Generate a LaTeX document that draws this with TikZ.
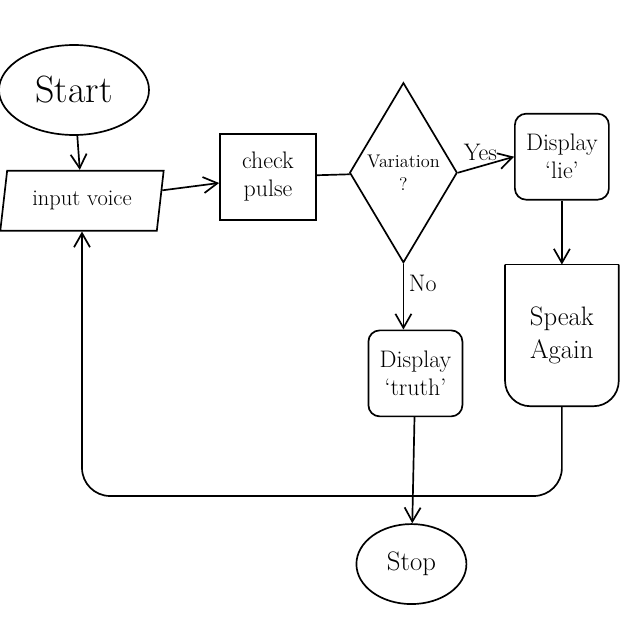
\documentclass[tikz,border=0pt]{standalone}
\usepackage{tikz}
\usetikzlibrary{shapes.geometric, arrows.meta, positioning}
\tikzset{
  terminal/.style={ellipse, draw, line width=1.2pt, inner sep=0pt},
  entrada/.style={trapezium, trapezium left angle=80, trapezium right angle=100,
    trapezium stretches=true, draw, line width=1.2pt, minimum width=4.1cm,
    minimum height=1.5cm, font=\fontsize{16}{19}\selectfont},
  proceso/.style={rectangle, draw, line width=1.2pt, align=center,
    minimum width=2.4cm, minimum height=2.15cm, font=\fontsize{17}{20}\selectfont},
  salida/.style={proceso, rounded corners=8pt, minimum width=2.35cm,
    font=\fontsize{17}{20}\selectfont},
  decision/.style={diamond, draw, line width=1.2pt, align=center, inner sep=0pt,
    minimum width=2.3cm, minimum height=4.5cm, font=\fontsize{13}{16}\selectfont},
  flecha/.style={-{Straight Barb[length=3.5mm, width=4mm]}, line width=1.2pt},
  etiqueta/.style={font=\fontsize{17}{19}\selectfont}
}

\begin{document}
\begin{tikzpicture}
  \useasboundingbox (0,0) rectangle (16,-16);

  % --- Start / input ---
  \node[terminal, minimum width=3.75cm, minimum height=2.25cm,
    font=\fontsize{27}{30}\selectfont] (start) at (1.85,-2.25) {Start};
  \node[entrada, below=0.85cm of start, xshift=0.2cm] (input) {input voice};

  % --- Pulse and decision ---
  \node[proceso, right=1.45cm of input, yshift=0.6cm] (check) {check\\pulse};
  \node[decision, right=0.8cm of check, yshift=0.1cm] (var) {Variation\\?};

  % --- Yes branch ---
  \node[salida, right=1.4cm of var, yshift=0.4cm] (lie) {Display\\`lie'};
  \node[proceso, draw=none, below=1.6cm of lie, minimum width=2.8cm,
    minimum height=3.5cm, font=\fontsize{19}{23}\selectfont] (speak) {Speak\\Again};
  \draw[line width=1.2pt, rounded corners=18pt] (speak.north west) -- (speak.south west)
    -- (speak.south east) -- (speak.north east);
  \draw[line width=1.2pt] (speak.north west) -- (speak.north east);

  % --- No branch ---
  \node[salida, below=1.65cm of var, xshift=0.3cm] (truth) {Display\\`truth'};
  \node[terminal, below=2.65cm of truth, xshift=-0.1cm, minimum width=2.75cm,
    minimum height=2cm, font=\fontsize{19}{21}\selectfont] (stop) {Stop};

  \coordinate (giro) at (2.05,-12.4);

  \draw[flecha] (start) -- (input);
  \draw[flecha] (input) -- (check);
  \draw[line width=1.2pt] (check) -- (var);
  \draw[flecha] (var.east) -- node[etiqueta, above, pos=0.4]{Yes} (lie.west);
  \draw[flecha] (lie) -- (speak);
  \draw[flecha] (var.south) -- node[etiqueta, right, pos=0.3]{No} (var.south |- truth.north);
  \draw[flecha] (truth) -- (stop);
  \draw[flecha, rounded corners=20pt] (speak.south) |- (giro) -- (input.south);

\end{tikzpicture}
\end{document}
